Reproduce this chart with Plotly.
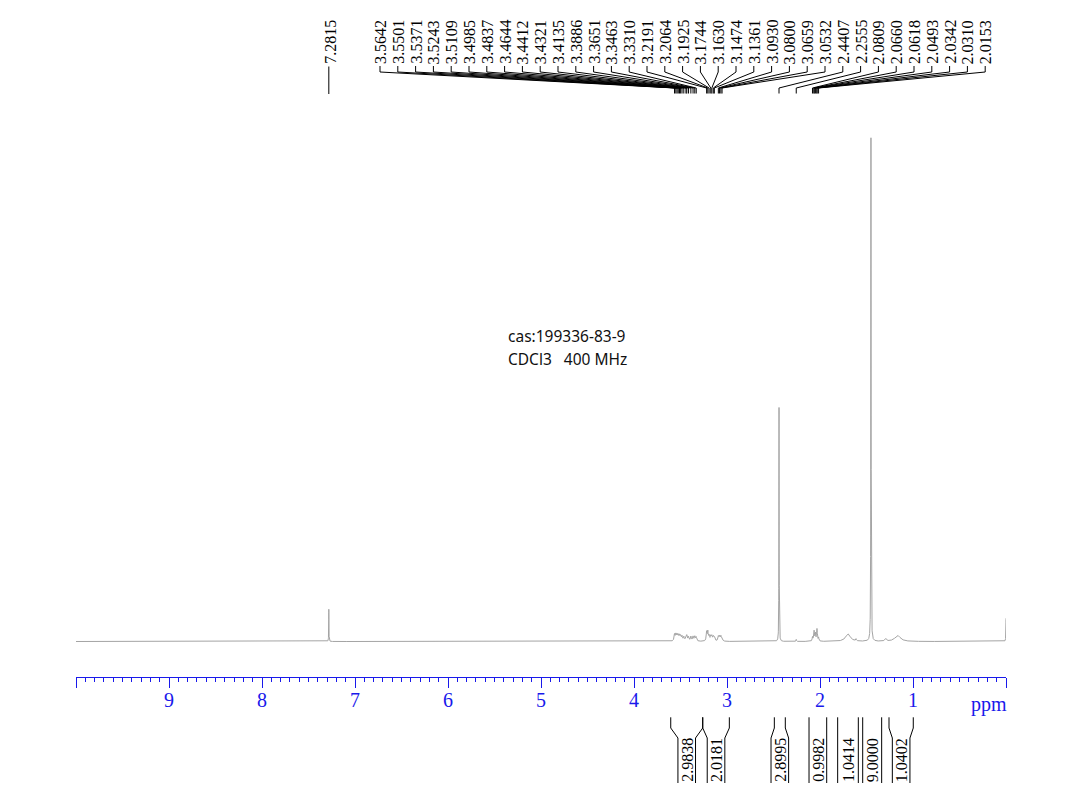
import numpy as np
import plotly.graph_objects as go

# ---------------- data ----------------
single_label_ppm = [7.2815]
group_label_ppm = [3.5642, 3.5501, 3.5371, 3.5243, 3.5109, 3.4985, 3.4837, 3.4644,
                   3.4412, 3.4321, 3.4135, 3.3886, 3.3651, 3.3463, 3.3310, 3.2191,
                   3.2064, 3.1925, 3.1744, 3.1630, 3.1474, 3.1361, 3.0930, 3.0800,
                   3.0659, 3.0532, 2.4407, 2.2555, 2.0809, 2.0660, 2.0618, 2.0493,
                   2.0342, 2.0310, 2.0153]

# spectral lines (ppm, relative height, half width in ppm)
line_ppm = [7.2815,
            3.5642, 3.5501, 3.5371, 3.5243, 3.5109, 3.4985, 3.4837, 3.4644,
            3.4412, 3.4321, 3.4135, 3.3886, 3.3651, 3.3463, 3.3310,
            3.2191, 3.2064, 3.1925, 3.1744, 3.1630, 3.1474, 3.1361,
            3.0930, 3.0800, 3.0659, 3.0532,
            2.4407, 2.2555,
            2.0809, 2.0660, 2.0618, 2.0493, 2.0342, 2.0310, 2.0153,
            1.700, 1.613, 1.452, 1.294, 1.165, 0.0]
line_height = [6.4,
               1.3, 1.2, 1.1, 1.0, 1.0, 0.9, 0.9, 0.8,
               0.9, 0.9, 0.8, 0.9, 0.9, 0.9, 0.8,
               1.8, 1.8, 1.0, 0.9, 0.9, 0.8, 0.8,
               0.9, 0.9, 0.9, 0.7,
               47.3, 0.4,
               0.8, 1.3, 1.3, 1.5, 1.4, 1.4, 0.7,
               1.5, 0.4, 100.0, 0.5, 1.2, 4.6]
line_hw = [0.0015,
           0.006, 0.006, 0.006, 0.006, 0.006, 0.006, 0.006, 0.006,
           0.006, 0.006, 0.006, 0.006, 0.006, 0.006, 0.006,
           0.005, 0.005, 0.006, 0.006, 0.006, 0.006, 0.006,
           0.006, 0.006, 0.006, 0.006,
           0.0015, 0.003,
           0.004, 0.004, 0.004, 0.004, 0.004, 0.004, 0.004,
           0.03, 0.004, 0.0018, 0.01, 0.035, 0.002]

integral_from = [3.605, 3.261, 2.491, 2.118, 1.810, 1.541, 1.258]
integral_to = [3.261, 2.975, 2.373, 1.928, 1.588, 1.337, 0.997]
integral_value = ["2.9838", "2.0181", "2.8995", "0.9982", "1.0414", "9.0000", "1.0402"]

tick_vals = [0, 1, 2, 3, 4, 5, 6, 7, 8, 9, 10]
tick_text = ["", "1", "2", "3", "4", "5", "6", "7", "8", "9", ""]

info_lines = ["cas:199336-83-9", "CDCl3\u00a0\u00a0\u00a0400 MHz"]

# ---------------- layout constants (reference page pixels) ----------------
OFF = 8                      # page body margin in the browser
W, H = 1069 - OFF, 802 - OFF  # figure size that fits the window
L = 76 - OFF
PW = 930
R = W - L - PW
AXIS_Y = 677
BASE_Y = 641.5
TOP_Y = 138.0
BLUE = "rgb(25,25,235)"
SERIF = "Liberation Serif"


def px2ppm(px):
    return 10 - (px - 76) / (PW / 10)


def ppm2px(p):
    return 76 + (10 - p) * (PW / 10)


def py(pyx):
    return (H - (pyx - OFF)) / H


k = (BASE_Y - TOP_Y) / 100.0
y_range = [-(802 - BASE_Y) / k, (BASE_Y - OFF) / k]

# spectrum
x = np.linspace(10, 0, 20001)
y = np.zeros_like(x)
for p, h, g in zip(line_ppm, line_height, line_hw):
    y += h * g * g / ((x - p) ** 2 + g * g)

fig = go.Figure()
fig.add_trace(go.Scatter(x=x, y=y, mode="lines",
                         line=dict(color="#a4a4a4", width=1),
                         hoverinfo="skip", showlegend=False))

shapes = []
annotations = []

# single label
for p in single_label_ppm:
    shapes.append(dict(type="line", xref="x", yref="paper",
                       x0=p, x1=p, y0=py(66.5), y1=py(94),
                       line=dict(color="black", width=1)))
    annotations.append(dict(x=p, y=py(41.5), xref="x", yref="paper",
                            text=f"{p:.4f}", textangle=-90, showarrow=False,
                            xanchor="center", yanchor="middle", xshift=1.5,
                            font=dict(family=SERIF, size=16, color="black")))

# grouped labels
LAB0, LABSTEP = 380.0, 17.8
for i, p in enumerate(group_label_ppm):
    lx = px2ppm(LAB0 + i * LABSTEP)
    path = (f"M {lx},{py(66)} L {lx},{py(72)} L {p},{py(88)} L {p},{py(93.5)}")
    shapes.append(dict(type="path", xref="x", yref="paper", path=path,
                       line=dict(color="black", width=1)))
    annotations.append(dict(x=lx, y=py(42), xref="x", yref="paper",
                            text=f"{p:.4f}", textangle=-90, showarrow=False,
                            xanchor="center", yanchor="middle",
                            font=dict(family=SERIF, size=16, color="black")))

# integrals
HALF = 8.8
for a, b, v in zip(integral_from, integral_to, integral_value):
    pa, pb = ppm2px(a), ppm2px(b)
    c = (pa + pb) / 2
    width = pb - pa
    if abs(width - 2 * HALF) > 4:
        ia, ib = c - HALF, c + HALF
    else:
        ia, ib = pa, pb
    for edge, inner in ((pa, ia), (pb, ib)):
        e, n = px2ppm(edge), px2ppm(inner)
        path = (f"M {e},{py(717.3)} L {e},{py(728)} L {n},{py(738)} L {n},{py(783)}")
        shapes.append(dict(type="path", xref="x", yref="paper", path=path,
                           line=dict(color="black", width=1)))
    annotations.append(dict(x=px2ppm(c), y=py(760), xref="x", yref="paper",
                            text=v, textangle=-90, showarrow=False,
                            xanchor="center", yanchor="middle",
                            font=dict(family=SERIF, size=16, color="black")))

# ppm unit label
annotations.append(dict(x=(989 - 76) / PW, y=py(704), xref="paper", yref="paper",
                        text="ppm", showarrow=False, xanchor="center", yanchor="middle",
                        font=dict(family=SERIF, size=20, color=BLUE)))

# info text
for j, t in enumerate(info_lines):
    annotations.append(dict(x=(506 - 76) / PW, y=py(335.5 + j * 23.5), xref="paper", yref="paper",
                            text=t, showarrow=False, xanchor="left", yanchor="middle",
                            font=dict(family="Noto Sans", size=15.5, color="#111111")))

fig.update_layout(
    width=W, height=H,
    margin=dict(l=L, r=R, t=0, b=0, pad=0),
    paper_bgcolor="white", plot_bgcolor="white",
    showlegend=False,
    xaxis=dict(range=[10, 0], domain=[0, 1], anchor="free", position=(802 - AXIS_Y) / H,
               showline=True, linecolor=BLUE, linewidth=1,
               ticks="outside", ticklen=10, tickwidth=1, tickcolor=BLUE,
               tickmode="array", tickvals=tick_vals, ticktext=tick_text,
               tickfont=dict(family=SERIF, size=20, color=BLUE),
               ticklabelstandoff=-5,
               showgrid=False, zeroline=False,
               minor=dict(tickmode="linear", tick0=0, dtick=0.1, ticks="outside",
                          ticklen=4, tickwidth=1, tickcolor=BLUE, showgrid=False)),
    yaxis=dict(range=y_range, domain=[0, 1], visible=False, showgrid=False, zeroline=False),
    shapes=shapes,
    annotations=annotations,
)

fig.write_html("out.html")
